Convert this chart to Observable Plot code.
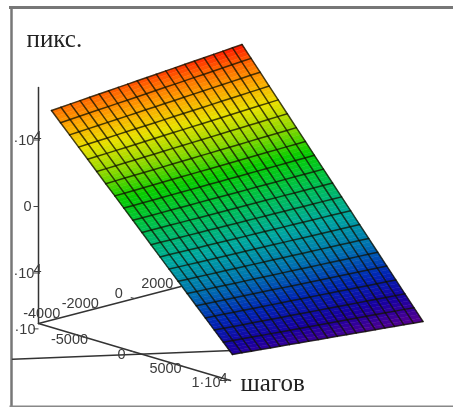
<!DOCTYPE html>
<html>
<head>
<meta charset="utf-8">
<script src="https://cdn.jsdelivr.net/npm/d3@7"></script>
<script src="https://cdn.jsdelivr.net/npm/@observablehq/plot@0.6"></script>
<style>
html,body{margin:0;padding:0;background:#fff;overflow:hidden}
svg{display:block;filter:blur(.5px)}
</style>
</head>
<body>
<div id="chart"></div>
<script>
// Surface grid
const stepsGrid = [-8650,-7708,-6765,-5822,-4880,-3938,-2995,-2052,-1110,-168,775,1718,2660,3602,4545,5488,6430,7372,8315,9258,10200];
const widthGrid = [-5000,-4505,-4010,-3515,-3020,-2525,-2030,-1535,-1040,-545,-50,445,940,1435,1930,2425,2920,3415,3910,4405,4900];
const pixelsNearEdge = [15015,13584,12153,10723,9292,7862,6431,5000,3570,2139,708,-722,-2153,-3583,-5014,-6445,-7875,-9306,-10736,-12167,-13598];
const pixelsFarEdge = [17496,15817,14138,12460,10781,9102,7423,5744,4066,2387,708,-971,-2650,-4328,-6007,-7686,-9365,-11044,-12722,-14401,-16080];

// Axes
const stepTicks = [-5000,0,5000,10000];
const stepLabels = ["-5000","0","5000","1·10⁴"];
const widthTicks = [-4000,-2000,0,2000];
const widthLabels = ["-4000","-2000","0","2000"];
const pixelTicks = [10000,0,-10000,-18400];
const pixelLabels = ["·10⁴","0","·10⁴","·10"];
const floorSteps = [-10000,10200];
const floorWidth = [-6351,-5000];
const floorPixels = [-21940,-12997];

// Rainbow
const colorDomain = [-16080,-13000,-10000,-6500,-3000,1000,4500,7500,10500,13000,15500,17500];
const colorRange = ["#58008f","#1800a0","#0026b4","#0074b0","#00a8a0","#00c050","#08cc00","#8cd800","#e8e000","#fcaa00","#ff6400","#ff1400"];

// Axonometric view of (steps, width, pixels)
const viewX = (a,b) => 38 + (a+10000)*0.0096 + (b+5000)*0.01925;
const viewY = (a,b,c) => 206 + (a+10000)*0.00285 - (b+5000)*0.005 - c*0.00665;
const P = (a,b,c) => ({X:viewX(a,b), Y:viewY(a,b,c), c});
const lerp = (u,v,t) => u+(v-u)*t;
const nR = stepsGrid.length-1, nC = widthGrid.length-1, sub = 4;
const surf = (r,q) => {
  const r0 = Math.min(Math.floor(r), nR-1), tr = r-r0;
  const q0 = Math.min(Math.floor(q), nC-1), tq = q-q0;
  const a = lerp(stepsGrid[r0],stepsGrid[r0+1],tr);
  const b = lerp(widthGrid[q0],widthGrid[q0+1],tq);
  const cl = lerp(pixelsNearEdge[r0],pixelsNearEdge[r0+1],tr);
  const cr = lerp(pixelsFarEdge[r0],pixelsFarEdge[r0+1],tr);
  return P(a,b,lerp(cl,cr,q/nC));
};
const quads = [];
for (let r=0;r<nR;r++) for (let q=0;q<nC;q++) for (let s=0;s<sub;s++) {
  const id = `${r}-${q}-${s}`;
  const r1=r+s/sub, r2=r+(s+1)/sub;
  const mid = surf((r1+r2)/2,q+.5).c;
  [surf(r1,q),surf(r1,q+1),surf(r2,q+1),surf(r2,q),surf(r1,q)].forEach(p=>quads.push({...p,id,c:mid}));
}
const gridLines = [];
for (let r=0;r<=nR;r++) for (let q=0;q<=nC;q++) gridLines.push({...surf(r,q),id:"r"+r});
for (let q=0;q<=nC;q++) for (let r=0;r<=nR;r++) gridLines.push({...surf(r,q),id:"q"+q});

const cFloor = -17594, aMin = -10000, bMin = -5000;
const axisLines = [
  {...P(aMin,bMin,17895),id:"z"},{...P(aMin,bMin,cFloor),id:"z"},
  {...P(aMin,bMin,cFloor),id:"a"},{...P(10000,bMin,cFloor),id:"a"},
  {...P(aMin,bMin,cFloor),id:"b"},{...P(aMin,2400,cFloor),id:"b"},
  {...P(floorSteps[0],floorWidth[0],floorPixels[0]),id:"f"},{...P(floorSteps[1],floorWidth[1],floorPixels[1]),id:"f"}
];
const stepT = stepTicks.map((t,i)=>({...P(t,bMin,cFloor),label:stepLabels[i]}));
const widthT = widthTicks.map((t,i)=>({...P(aMin,t,cFloor),label:widthLabels[i]}));
const pixelT = pixelTicks.map((t,i)=>({...P(aMin,bMin,t),label:pixelLabels[i]}));
const tickFont = {fontFamily:"Liberation Sans",fontSize:14.5,fill:"#3c3c3c"};
const titleFont = {fontFamily:"Liberation Serif",fontSize:25,fill:"#222"};

const chart = Plot.plot({
  width:453,height:407,margin:0,
  style:{background:"#fff",overflow:"hidden"},
  x:{domain:[0,453],range:[0,453],axis:null},
  y:{domain:[0,407],range:[0,407],axis:null},
  color:{type:"linear",domain:colorDomain,range:colorRange,interpolate:"rgb"},
  marks:[
    Plot.frame({anchor:"top",stroke:"#777",strokeWidth:3,insetTop:7,insetLeft:10}),
    Plot.frame({anchor:"left",stroke:"#777",strokeWidth:2.5,insetLeft:11,insetTop:7,insetBottom:1}),
    Plot.frame({anchor:"bottom",stroke:"#888",strokeWidth:2,insetBottom:1,insetLeft:10}),
    Plot.line(axisLines,{x:"X",y:"Y",z:"id",stroke:"#333",strokeWidth:1.5}),
    Plot.link(pixelT,{x1:d=>d.X-5,x2:"X",y1:"Y",y2:"Y",stroke:"#444"}),
    Plot.link(stepT,{x1:"X",x2:d=>d.X-4,y1:"Y",y2:d=>d.Y-1,stroke:"#444"}),
    Plot.link(widthT,{x1:"X",x2:d=>d.X-4,y1:"Y",y2:d=>d.Y-1,stroke:"#444"}),
    Plot.text(stepT,{x:d=>d.X+(d.label==="0"?4:d.label==="1·10⁴"?-4:0),y:"Y",text:"label",dx:-17,dy:2,...tickFont}),
    Plot.text(widthT,{x:"X",y:"Y",text:"label",dx:-16,dy:-5,...tickFont}),
    Plot.text(pixelT,{x:d=>d.X+(d.label==="0"?-7:d.label==="·10"?-3:3),y:"Y",text:"label",textAnchor:"end",...tickFont}),
    Plot.line(quads,{x:"X",y:"Y",z:"id",fill:"c",stroke:"c",strokeWidth:.5,curve:"linear"}),
    Plot.line(gridLines,{x:"X",y:"Y",z:"id",stroke:"#101000",strokeOpacity:.76,strokeWidth:1.5}),
    Plot.text(["пикс."],{frameAnchor:"top-left",dx:26,dy:29,textAnchor:"start",lineAnchor:"top",...titleFont}),
    Plot.text(["шагов"],{frameAnchor:"top-left",dx:240,dy:373,textAnchor:"start",lineAnchor:"top",...titleFont})
  ]
});
document.getElementById("chart").appendChild(chart);
// Large superscript as in the reference
d3.select(chart).selectAll("text").each(function(){
  const t = this.textContent;
  if (t.endsWith("⁴")) {
    const s = d3.select(this);
    s.selectAll("*").remove();
    s.text(t.slice(0,-1));
    s.append("tspan").attr("dy","-4").attr("dx","-1").text("4");
  }
});
</script>
</body>
</html>
